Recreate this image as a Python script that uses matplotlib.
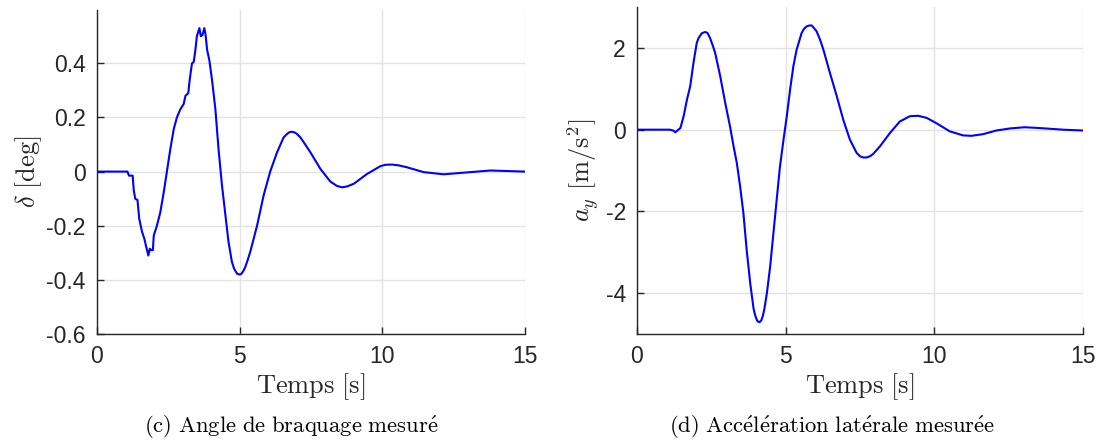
import numpy as np
import matplotlib
matplotlib.use("Agg")
import matplotlib.pyplot as plt

# Data
t_delta = [0, 1.07, 1.12, 1.25, 1.29, 1.34, 1.42, 1.48, 1.58, 1.66, 1.73, 1.80, 1.85,
           1.90, 1.96, 1.99, 2.10, 2.22, 2.34, 2.45, 2.57, 2.69, 2.80, 2.92, 3.04, 3.10,
           3.20, 3.25, 3.33, 3.39, 3.45, 3.50, 3.59, 3.64, 3.70, 3.76, 3.80, 3.86, 3.94,
           4.03, 4.15, 4.26, 4.38, 4.50, 4.61, 4.73, 4.81, 4.91, 4.98, 5.05, 5.12, 5.20,
           5.28, 5.37, 5.61, 5.84, 6.07, 6.31, 6.54, 6.66, 6.75, 6.83, 6.92, 7.01, 7.13,
           7.30, 7.48, 7.83, 8.18, 8.41, 8.59, 8.76, 9.00, 9.46, 9.93, 10.10, 10.34, 10.57,
           10.86, 11.45, 12.15, 12.85, 13.79, 15.0]
delta = [0, 0, -0.015, -0.015, -0.07, -0.10, -0.105, -0.174, -0.223, -0.248, -0.28, -0.31,
         -0.285, -0.29, -0.29, -0.236, -0.20, -0.15, -0.076, 0.0, 0.083, 0.157, 0.20, 0.23,
         0.25, 0.28, 0.29, 0.34, 0.40, 0.405, 0.45, 0.50, 0.53, 0.50, 0.505, 0.53, 0.51,
         0.45, 0.41, 0.34, 0.23, 0.083, -0.05, -0.16, -0.26, -0.334, -0.36, -0.377, -0.380,
         -0.379, -0.369, -0.352, -0.327, -0.297, -0.20, -0.088, 0.0, 0.071, 0.126, 0.139,
         0.146, 0.147, 0.145, 0.139, 0.126, 0.10, 0.071, 0.01, -0.037, -0.053, -0.058,
         -0.055, -0.045, -0.009, 0.02, 0.025, 0.026, 0.023, 0.016, -0.002, -0.01, -0.004,
         0.004, 0.0]

t_ay = [0, 1.10, 1.22, 1.29, 1.36, 1.46, 1.57, 1.68, 1.79, 1.90, 2.01, 2.07, 2.18, 2.29,
        2.37, 2.46, 2.54, 2.63, 2.80, 2.97, 3.13, 3.25, 3.36, 3.47, 3.58, 3.69, 3.81, 3.92,
        3.97, 4.03, 4.06, 4.12, 4.18, 4.23, 4.29, 4.37, 4.48, 4.59, 4.70, 4.81, 4.93, 5.04,
        5.15, 5.26, 5.37, 5.54, 5.62, 5.71, 5.80, 5.88, 5.95, 6.04, 6.16, 6.27, 6.49, 6.72,
        6.94, 7.16, 7.39, 7.50, 7.61, 7.72, 7.84, 7.95, 8.17, 8.51, 8.84, 9.18, 9.46, 9.74,
        10.07, 10.52, 10.97, 11.25, 11.64, 12.09, 12.54, 13.04, 13.54, 14.33, 15.0]
ay = [0, 0, -0.02, -0.065, -0.02, 0.04, 0.33, 0.73, 1.06, 1.63, 2.12, 2.24, 2.36, 2.39,
      2.37, 2.24, 2.08, 1.88, 1.31, 0.65, 0.08, -0.41, -0.82, -1.39, -2.04, -2.94, -3.76,
      -4.37, -4.53, -4.65, -4.69, -4.71, -4.67, -4.57, -4.37, -4.0, -3.35, -2.53, -1.71,
      -0.9, -0.24, 0.33, 0.98, 1.55, 1.96, 2.37, 2.47, 2.53, 2.55, 2.55, 2.49, 2.41, 2.2,
      1.96, 1.39, 0.82, 0.24, -0.24, -0.57, -0.65, -0.68, -0.68, -0.65, -0.59, -0.41,
      -0.08, 0.2, 0.33, 0.34, 0.29, 0.16, -0.04, -0.14, -0.15, -0.11, -0.02, 0.03, 0.06,
      0.04, 0.0, -0.02]

x_ticks = [0, 5, 10, 15]
delta_ticks = [-0.6, -0.4, -0.2, 0, 0.2, 0.4]
ay_ticks = [-4, -2, 0, 2]

plt.rcParams['mathtext.fontset'] = 'cm'
plt.rcParams['axes.unicode_minus'] = False
AXC = '#262626'

fig = plt.figure(figsize=(11.02, 4.46), dpi=100)
ax1 = fig.add_axes([0.088, 0.2511, 0.3884, 0.7265])
ax2 = fig.add_axes([0.578, 0.2511, 0.4047, 0.733])


def style(ax):
    for s in ['top', 'right']:
        ax.spines[s].set_visible(False)
    for s in ['left', 'bottom']:
        ax.spines[s].set_color(AXC)
        ax.spines[s].set_linewidth(1.0)
    ax.grid(True, color='#e3e3e3', linewidth=1.0)
    ax.set_axisbelow(True)
    ax.tick_params(direction='in', length=5, width=1, color=AXC, labelcolor=AXC,
                   labelsize=16.5, pad=8)
    for lab in ax.get_xticklabels() + ax.get_yticklabels():
        lab.set_family('Liberation Sans')


ax1.plot(t_delta, delta, color='#0000ff', linewidth=1.5, solid_joinstyle='round')
ax1.set_xlim(0, 15)
ax1.set_ylim(-0.6, 0.597)
ax1.set_xticks(x_ticks)
ax1.set_yticks(delta_ticks)
ax1.set_yticklabels(['-0.6', '-0.4', '-0.2', '0', '0.2', '0.4'])
style(ax1)
ax1.set_xlabel(r'$\mathrm{Temps\ [s]}$', fontsize=19, color=AXC, labelpad=2)
ax1.set_ylabel(r'$\delta\ \mathrm{[deg]}$', fontsize=19, color=AXC, labelpad=2)

ax2.plot(t_ay, ay, color='#0000ff', linewidth=1.5, solid_joinstyle='round')
ax2.set_xlim(0, 15)
ax2.set_ylim(-5, 3)
ax2.set_xticks(x_ticks)
ax2.set_yticks(ay_ticks)
style(ax2)
ax2.set_xlabel(r'$\mathrm{Temps\ [s]}$', fontsize=19, color=AXC, labelpad=2)
ax2.set_ylabel(r'$a_y\ \mathrm{[m/s^2]}$', fontsize=19, color=AXC, labelpad=3)

fig.text(0.264, 0.012, r"$\mathrm{(c)\ Angle\ de\ braquage\ mesur\acute{e}}$",
         ha='center', va='bottom', fontsize=16.3)
fig.text(0.755, 0.012, r"$\mathrm{(d)\ Acc\acute{e}l\acute{e}ration\ lat\acute{e}rale\ mesur\acute{e}e}$",
         ha='center', va='bottom', fontsize=16.3)

fig.savefig('out.png', dpi=100)
